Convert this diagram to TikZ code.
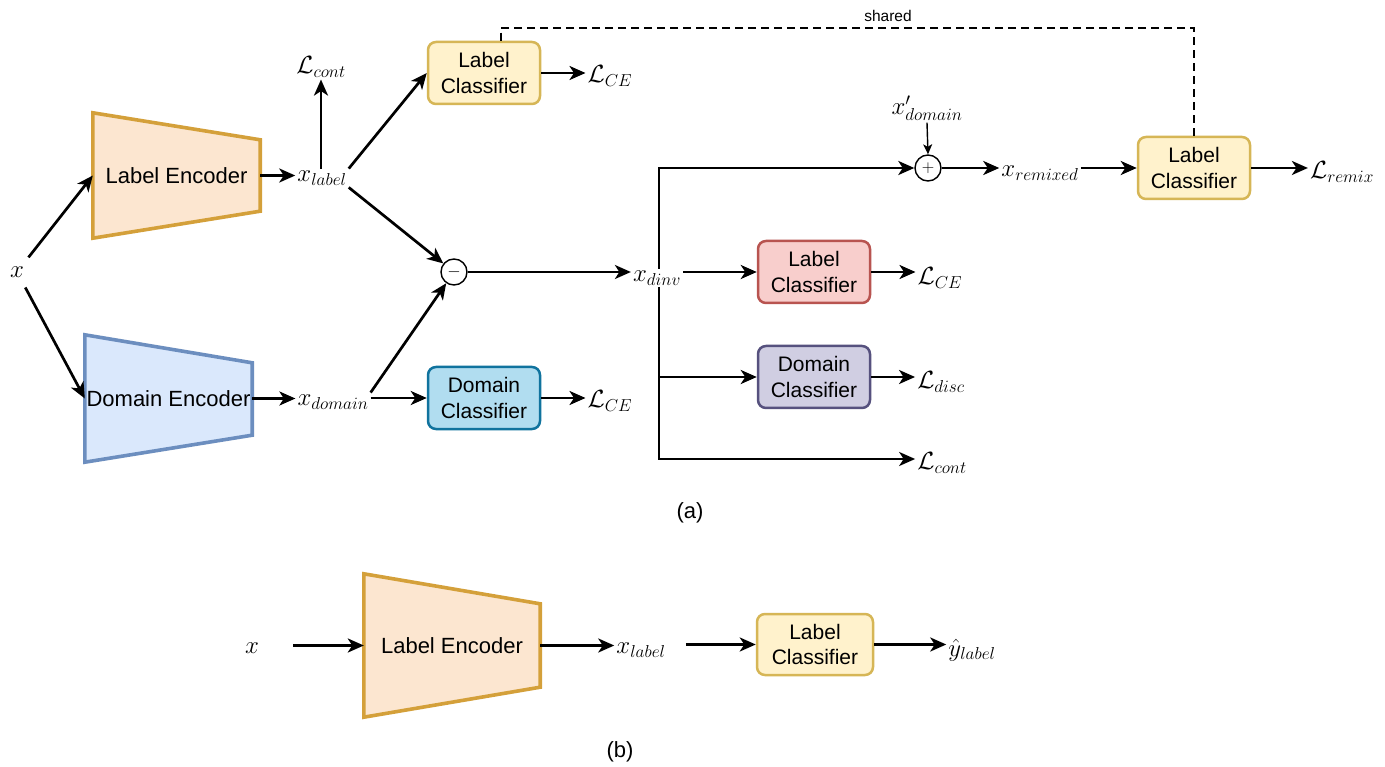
\documentclass[tikz,border=0pt]{standalone}
\usepackage{fontspec}
\setmainfont{Liberation Sans}
\usetikzlibrary{arrows.meta,calc}
\definecolor{leF}{HTML}{FCE6D0}
\definecolor{leD}{HTML}{D4A03A}
\definecolor{deF}{HTML}{DAE8FC}
\definecolor{deD}{HTML}{6C8EBF}
\definecolor{lcF}{HTML}{FFF2CC}
\definecolor{lcD}{HTML}{D6B656}
\definecolor{rdF}{HTML}{F8CECC}
\definecolor{rdD}{HTML}{B85450}
\definecolor{puF}{HTML}{D0CEE2}
\definecolor{puD}{HTML}{56517E}
\definecolor{blF}{HTML}{B1DDF0}
\definecolor{blD}{HTML}{10739E}
\tikzset{
  cls/.style={rounded corners=8pt, draw, line width=2.5pt, minimum width=112pt,
    minimum height=62pt, align=center, inner sep=0pt,
    font=\fontsize{21}{25.5}\selectfont},
  enc/.style={inner sep=0pt, font=\fontsize{22}{25}\selectfont},
  arr/.style={line width=2.7pt, -{Stealth[length=16pt,width=14pt,inset=4.5pt]}},
  thinarr/.style={line width=1.4pt, -{Stealth[length=10pt,width=9pt,inset=2.5pt]}},
  mth/.style={font=\fontsize{24.5}{28}\selectfont, inner sep=2pt},
  opc/.style={circle, draw, line width=1.4pt, minimum size=26pt, inner sep=0pt, fill=white},
  shareddash/.style={line width=1.8pt, dash pattern=on 8pt off 5pt},
  subcap/.style={font=\fontsize{22}{26}\selectfont},
}
\begin{document}
\begin{tikzpicture}[x=1pt,y=-1pt]
\useasboundingbox[fill=white] (0,0) rectangle (1385,767);

% ---------- (a) ----------
\node[mth] (x) at (17,272) {$x$};

% label encoder
\node[enc, minimum width=167pt, minimum height=125pt] (le) at (176.5,175.5) {Label Encoder};
\path[draw=leD, fill=leF, line width=3.6pt, line join=miter]
  (le.north west) -- ($(le.north east)+(0,27)$) -- ($(le.south east)+(0,-27)$) -- (le.south west) -- cycle;
\node[enc] at (le) {Label Encoder};

% domain encoder
\node[enc, minimum width=167pt, minimum height=127pt] (de) at (168.5,398.5) {Domain Encoder};
\path[draw=deD, fill=deF, line width=3.6pt, line join=miter]
  (de.north west) -- ($(de.north east)+(0,28)$) -- ($(de.south east)+(0,-27)$) -- (de.south west) -- cycle;
\node[enc] at (de) {Domain Encoder};

\draw[arr, shorten <=9pt] (x) -- (le.west);
\draw[arr, shorten <=9pt] (x) -- (de.west);

\node[mth] (xl) at (322,178) {$x_{label}$};
\node[mth] (lc1t) at (321,67) {$\mathcal{L}_{cont}$};
\node[cls, fill=lcF, draw=lcD] (lc1) at (484,73) {Label\\Classifier};
\node[mth] (lce1) at (610,76) {$\mathcal{L}_{CE}$};

\node[mth] (xd) at (333,402) {$x_{domain}$};
\node[cls, fill=blF, draw=blD] (dc) at (484,398) {Domain\\Classifier};
\node[mth] (lce2) at (610,401) {$\mathcal{L}_{CE}$};

\node[opc] (minus) at (454,272) {\fontsize{16}{16}\selectfont$-$};

\draw[arr] (le.east) -- (le.east -| xl.west);
\draw[arr] (xl.north -| lc1t) -- (lc1t.south);
\draw[arr] (xl.north east) -- (lc1.west);
\draw[arr] (xl.south east) -- (minus);
\draw[arr] (de.east) -- (de.east -| xd.west);
\draw[arr] (xd.north east) -- (minus);
\draw[arr] (xd.east |- dc) -- (dc.west);
\draw[arr] (dc.east) -- (dc.east -| lce2.west);
\draw[arr] (lc1.east) -- (lc1.east -| lce1.west);

% x_dinv and trunk
\node[mth] (xdv) at (657,278) {$x_{dinv}$};
\coordinate (tk) at (659,0);
\draw[arr] (minus) -- (minus -| xdv.west);

\node[opc] (plus) at (928,168) {\fontsize{16}{16}\selectfont$+$};
\node[mth] (xpd) at (927,108) {$x'_{domain}$};
\node[mth] (xrem) at (1040,173) {$x_{remixed}$};
\node[cls, fill=lcF, draw=lcD] (lcr) at (1194,168) {Label\\Classifier};
\node[mth] (lrem) at (1342,172) {$\mathcal{L}_{remix}$};

\node[cls, fill=rdF, draw=rdD] (lcm) at (814,272) {Label\\Classifier};
\node[mth] (lce3) at (940,278) {$\mathcal{L}_{CE}$};
\node[cls, fill=puF, draw=puD] (dcm) at (814,377) {Domain\\Classifier};
\node[mth] (ldisc) at (941,382) {$\mathcal{L}_{disc}$};
\node[mth] (lc2t) at (942,463) {$\mathcal{L}_{cont}$};

\draw[arr] (tk |- xdv.north) |- (plus.west);
\draw[arr] (tk |- xdv.south) |- (lc2t.west |- 0,459);
\draw[arr] (tk |- dcm) -- (dcm.west);
\draw[arr] (xdv.east |- lcm) -- (lcm.west);
\draw[arr] (lcm.east) -- (lcm.east -| lce3.west);
\draw[arr] (dcm.east) -- (dcm.east -| ldisc.west);

\draw[thinarr] (xpd.south) -- (plus.north);
\draw[arr] (plus.east) -- (plus.east -| xrem.west);
\draw[arr] (xrem.east |- lcr) -- (lcr.west);
\draw[arr] (lcr.east) -- (lcr.east -| lrem.west);

% shared
\draw[shareddash] (lcr.north) |- ($(lc1.north)+(17,-13)$) -- ($(lc1.north)+(17,0)$);
\node[font=\fontsize{15.5}{18}\selectfont] (sh) at (888,16) {shared};

\node[subcap] (capa) at (690,513) {(a)};

% ---------- (b) ----------
\node[mth] (xb) at (252,648) {$x$};
\node[enc, minimum width=176pt, minimum height=143pt] (leb) at (452,645.5) {Label Encoder};
\path[draw=leD, fill=leF, line width=3.6pt, line join=miter]
  (leb.north west) -- ($(leb.north east)+(0,30)$) -- ($(leb.south east)+(0,-30)$) -- (leb.south west) -- cycle;
\node[enc] at (leb) {Label Encoder};
\node[mth] (xlb) at (641,650) {$x_{label}$};
\node[cls, fill=lcF, draw=lcD, minimum width=116pt, minimum height=61pt] (lcb) at (815,644.5) {Label\\Classifier};
\node[mth] (yh) at (972,650) {$\hat{y}_{label}$};

\draw[arr, shorten <=32pt] (xb.east |- leb) -- (leb.west);
\draw[arr] (leb.east) -- (leb.east -| xlb.west);
\draw[arr, shorten <=18pt] (xlb.east |- lcb) -- (lcb.west);
\draw[arr] (lcb.east) -- (lcb.east -| yh.west);

\node[subcap] (capb) at (620,752) {(b)};
\end{tikzpicture}
\end{document}
